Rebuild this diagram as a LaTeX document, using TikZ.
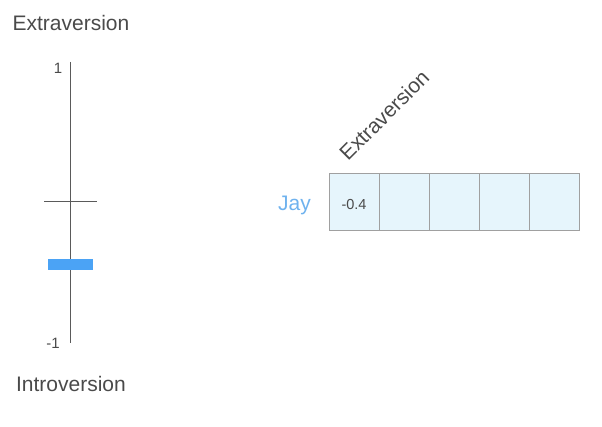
\documentclass[tikz,border=0pt]{standalone}
\usepackage{fontspec}
\setmainfont{Liberation Sans}
\definecolor{txt}{HTML}{4A4A4A}
\definecolor{axis}{HTML}{5A5A5A}
\definecolor{bar}{HTML}{4BA3F5}
\definecolor{jay}{HTML}{6FB2EE}
\definecolor{cellfill}{HTML}{E6F5FC}
\definecolor{cellline}{HTML}{A0A0A0}
\tikzset{
  lbl/.style={text=txt, font=\fontsize{21}{25}\selectfont, inner sep=0pt},
  tick/.style={text=txt, font=\fontsize{15}{18}\selectfont, inner sep=0pt},
  axisline/.style={draw=axis, line width=1pt},
  cell/.style={draw=cellline, fill=cellfill, line width=1pt, minimum width=50pt, minimum height=57pt, inner sep=0pt, outer sep=0pt},
}
\begin{document}
\begin{tikzpicture}[x=1pt, y=-1pt]
\useasboundingbox (0,0) rectangle (602,427);
% left scale
\node[lbl] (ext) at (71,23) {Extraversion};
\node[lbl] (intro) at (71,384) {Introversion};
\node[tick] (one) at (58,68) {1};
\node[tick] (mone) at (53,343) {-1};
\coordinate (atop) at (70,62);
\coordinate (abot) at (70,343);
\draw[axisline] (atop) -- (abot);
\coordinate (tl) at (44,202);
\coordinate (tr) at (97,202);
\draw[axisline] (tl) -- (tr);
\fill[bar] (48,259) rectangle (93,270);
% right table
\node[cell] (c1) at (354,202.5) {};
\node[cell] (c2) at (404,202.5) {};
\node[cell] (c3) at (454,202.5) {};
\node[cell] (c4) at (504,202.5) {};
\node[cell] (c5) at (554,202.5) {};
\node[text=txt, font=\fontsize{14.5}{17}\selectfont, inner sep=0pt] (val) at (354,205) {-0.4};
\node[text=jay, font=\fontsize{21}{25}\selectfont, inner sep=0pt, anchor=east] (jay) at (311,205) {Jay};
\node[lbl, rotate=45, anchor=base west] (rext) at (348,162) {Extraversion};
\end{tikzpicture}
\end{document}
